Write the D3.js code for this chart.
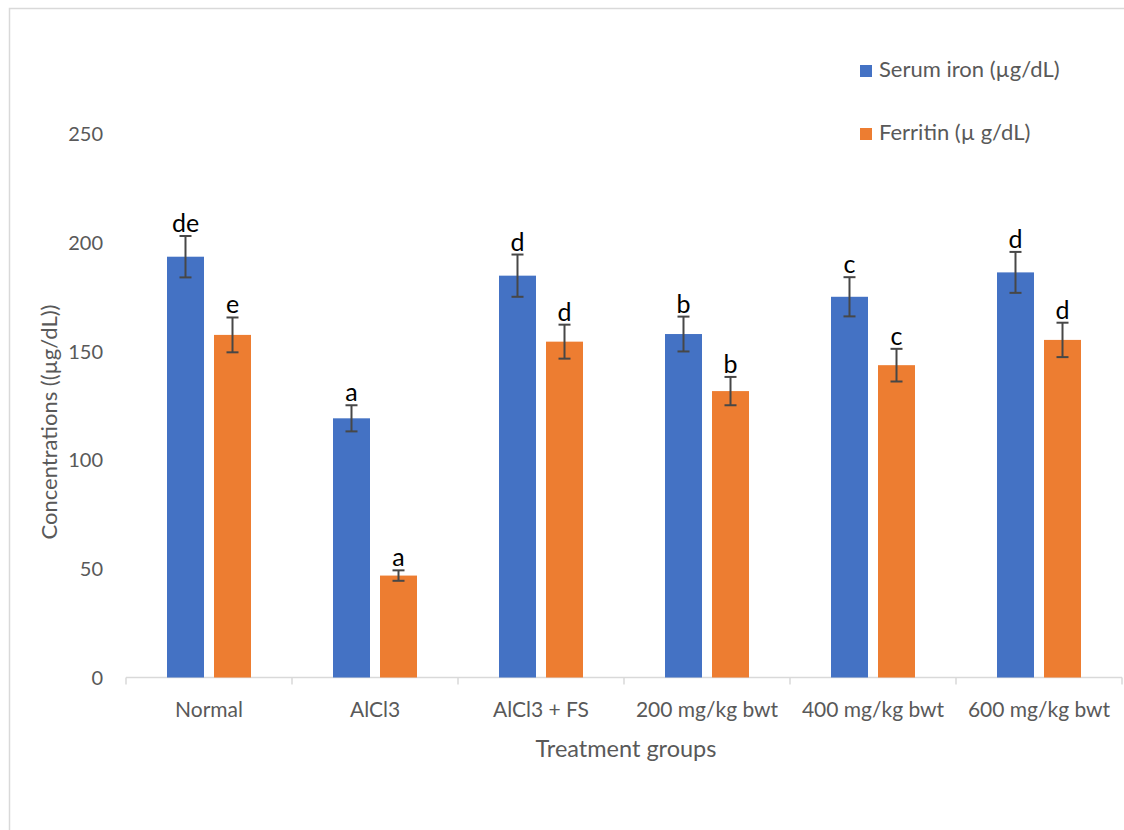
<!DOCTYPE html>
<html>
<head>
<meta charset="utf-8">
<script src="https://cdn.jsdelivr.net/npm/d3@7"></script>
<style>
  html, body { margin: 0; padding: 0; background: #ffffff; }
  svg { display: block; }
</style>
</head>
<body>
<svg id="chart" width="1124" height="830"></svg>
<script>
const categories = ["Normal", "AlCl3", "AlCl3 + FS", "200 mg/kg bwt", "400 mg/kg bwt", "600 mg/kg bwt"];
const seriesNames = ["Serum iron (\u00b5g/dL)", "Ferritin (\u00b5 g/dL)"];
const serumIron = [193.2, 119.0, 184.5, 157.7, 174.8, 186.0];
const serumIronErr = [9.5, 6.0, 9.7, 8.0, 9.0, 9.4];
const ferritin = [157.3, 46.8, 154.2, 131.5, 143.4, 155.0];
const ferritinErr = [8.0, 2.4, 7.8, 6.5, 7.5, 7.9];
const serumLetters = ["de", "a", "d", "b", "c", "d"];
const ferritinLetters = ["e", "a", "d", "b", "c", "d"];
const yTicks = [0, 50, 100, 150, 200, 250];

const colors = ["#4472C4", "#ED7D31"];
const font = "Lato, 'Open Sans', sans-serif";
const textGray = "#595959";

const svg = d3.select("#chart");

// outer chart border
svg.append("rect")
  .attr("x", 9.5).attr("y", 8.5)
  .attr("width", 1140).attr("height", 840)
  .attr("fill", "none").attr("stroke", "#d9d9d9").attr("stroke-width", 1.5);

const x0 = d3.scaleBand().domain(categories).range([126, 1122]).padding(0);
const x1 = d3.scaleBand().domain([0, 1]).range([41, 125]).paddingInner(0.213).paddingOuter(0);
const y = d3.scaleLinear().domain([0, 250]).range([677.5, 133]);

// y tick labels (no axis line)
const yAxis = d3.axisLeft(y).tickValues(yTicks).tickSize(0).tickPadding(0);
const gy = svg.append("g").attr("transform", "translate(103,0)").call(yAxis);
gy.select(".domain").remove();
gy.selectAll("text")
  .attr("font-family", font).attr("font-size", 20).attr("fill", textGray)
  .attr("dy", "0.36em");

// x axis
const xAxis = d3.axisBottom(x0).tickSize(0).tickPadding(0);
const gx = svg.append("g").attr("transform", "translate(0,677.5)").call(xAxis);
gx.select(".domain").attr("stroke", "#d9d9d9").attr("stroke-width", 1.5)
  .attr("d", `M126,0H1122`);
gx.selectAll("text")
  .attr("font-family", font).attr("font-size", 21).attr("fill", textGray)
  .attr("y", 0).attr("dy", 39);
// boundary ticks
const bounds = categories.map(c => x0(c)).concat([x0.range()[1]]);
gx.selectAll("line.bound").data(bounds).enter().append("line")
  .attr("class", "bound")
  .attr("x1", d => d).attr("x2", d => d)
  .attr("y1", 0).attr("y2", 7)
  .attr("stroke", "#d9d9d9").attr("stroke-width", 1.5);

// bars
const data = [];
categories.forEach((c, i) => {
  data.push({ c, s: 0, v: serumIron[i], e: serumIronErr[i], l: serumLetters[i] });
  data.push({ c, s: 1, v: ferritin[i], e: ferritinErr[i], l: ferritinLetters[i] });
});

const g = svg.append("g");
g.selectAll("rect.bar").data(data).enter().append("rect")
  .attr("class", "bar")
  .attr("x", d => x0(d.c) + x1(d.s))
  .attr("width", x1.bandwidth())
  .attr("y", d => y(d.v))
  .attr("height", d => y(0) - y(d.v))
  .attr("fill", d => colors[d.s]);

// error bars
const errColor = "#474747";
const cx = d => x0(d.c) + x1(d.s) + x1.bandwidth() / 2;
const eg = g.selectAll("g.err").data(data).enter().append("g").attr("class", "err");
eg.append("line")
  .attr("x1", cx).attr("x2", cx)
  .attr("y1", d => y(d.v + d.e)).attr("y2", d => y(d.v - d.e))
  .attr("stroke", errColor).attr("stroke-width", 2);
eg.append("line")
  .attr("x1", d => cx(d) - 6).attr("x2", d => cx(d) + 6)
  .attr("y1", d => y(d.v + d.e)).attr("y2", d => y(d.v + d.e))
  .attr("stroke", errColor).attr("stroke-width", 2);
eg.append("line")
  .attr("x1", d => cx(d) - 6).attr("x2", d => cx(d) + 6)
  .attr("y1", d => y(d.v - d.e)).attr("y2", d => y(d.v - d.e))
  .attr("stroke", errColor).attr("stroke-width", 2);

// significance letters
g.selectAll("text.letter").data(data).enter().append("text")
  .attr("class", "letter")
  .attr("x", cx)
  .attr("y", d => y(d.v + d.e) - 4)
  .attr("text-anchor", "middle")
  .attr("font-family", font).attr("font-size", 25).attr("fill", "#000000")
  .text(d => d.l);

// axis titles
svg.append("text")
  .attr("x", 626).attr("y", 757)
  .attr("text-anchor", "middle")
  .attr("font-family", font).attr("font-size", 23.5).attr("fill", textGray)
  .text("Treatment groups");

svg.append("text")
  .attr("transform", "translate(57,422) rotate(-90)")
  .attr("text-anchor", "middle")
  .attr("font-family", font).attr("font-size", 22).attr("fill", textGray)
  .text("Concentrations ((\u00b5g/dL))");

// legend
const legendY = [65, 128];
const lg = svg.selectAll("g.legend").data(seriesNames).enter().append("g")
  .attr("class", "legend")
  .attr("transform", (d, i) => `translate(860,${legendY[i]})`);
lg.append("rect").attr("width", 12).attr("height", 12).attr("fill", (d, i) => colors[i]);
lg.append("text")
  .attr("x", 19).attr("y", 12)
  .attr("font-family", font).attr("font-size", 22).attr("fill", textGray)
  .text(d => d);
</script>
</body>
</html>
